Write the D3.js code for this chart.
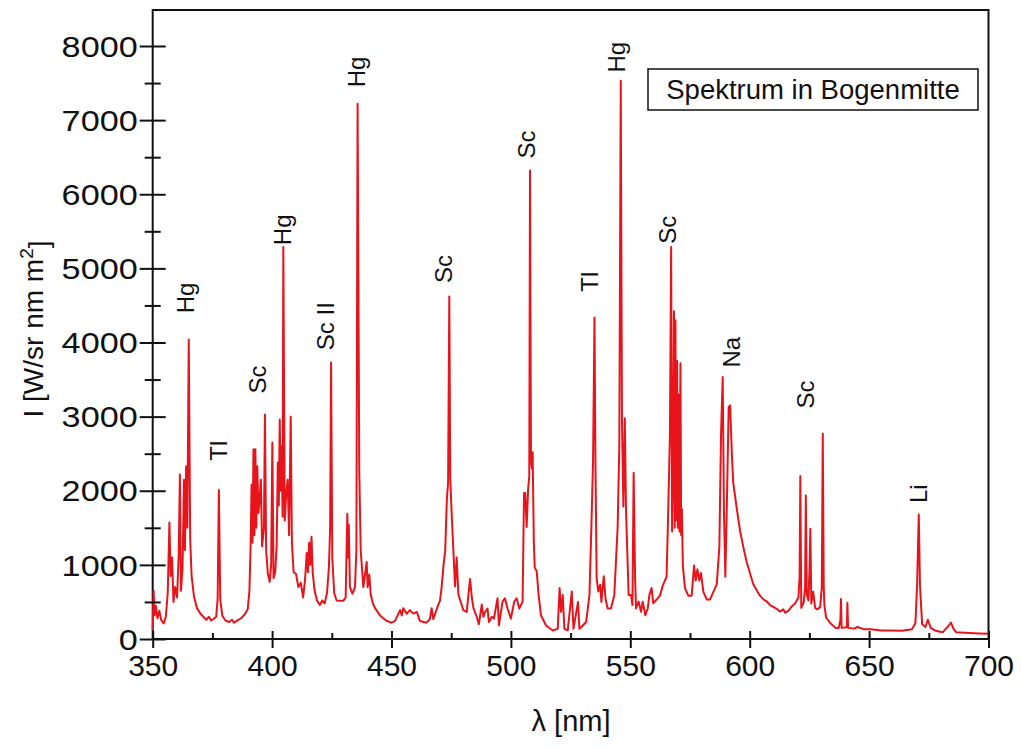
<!DOCTYPE html>
<html>
<head>
<meta charset="utf-8">
<script src="https://cdn.jsdelivr.net/npm/d3@7"></script>
<style>
  html, body { margin: 0; padding: 0; background: #fff; }
  svg { display: block; font-family: "Liberation Sans", Arial, sans-serif; }
</style>
</head>
<body>
<svg id="chart" width="1021" height="749"></svg>
<script>
// Emission spectrum of the arc centre: wavelength (nm) and radiance I (W/sr nm m²)
const wavelength = [
  350.0, 350.4, 350.8, 351.3, 352.0, 352.8, 353.5, 354.6, 355.5, 356.3,
  357.0, 357.5, 358.1, 358.7, 359.4, 360.2, 360.9, 361.4, 361.8, 362.5,
  363.1, 363.5, 364.0, 364.5, 365.1, 365.7, 366.3, 367.3, 368.5, 370.0,
  371.5, 372.5, 373.5, 374.5, 375.5, 376.6, 377.2, 377.7, 378.3, 379.2,
  380.5, 382.0, 383.2, 384.0, 385.5, 387.0, 388.5, 389.8, 390.5, 391.0,
  391.4, 391.8, 392.2, 392.6, 393.0, 393.4, 393.8, 394.3, 394.8, 395.3,
  395.8, 396.6, 397.0, 397.5, 398.2, 399.0, 399.6, 400.1, 400.6, 401.3,
  401.9, 402.4, 402.8, 403.2, 403.6, 404.0, 404.4, 404.7, 405.3, 405.9,
  406.5, 407.1, 407.8, 408.3, 409.0, 410.0, 411.0, 412.0, 413.0, 413.8,
  414.5, 415.0, 415.5, 416.0, 416.5, 417.0, 417.8, 418.8, 420.0, 421.0,
  422.0, 423.0, 423.8, 424.3, 424.7, 425.2, 426.0, 427.0, 428.3, 429.8,
  430.8, 431.5, 431.8, 432.1, 432.6, 433.6, 434.7, 435.3, 435.8, 436.5,
  437.1, 438.2, 439.6, 440.0, 440.7, 441.3, 442.2, 443.1, 445.2, 448.0,
  450.1, 451.5, 453.6, 454.3, 454.9, 456.4, 457.7, 459.1, 460.6, 461.9,
  464.7, 466.1, 466.8, 467.5, 469.6, 470.3, 471.0, 471.8, 472.5, 473.2,
  473.7, 474.2, 474.6, 475.2, 475.9, 476.6, 477.3, 478.0, 480.1, 481.5,
  482.9, 483.6, 484.3, 485.7, 486.6, 487.8, 488.5, 489.2, 490.2, 490.8,
  492.0, 492.9, 494.4, 495.0, 496.5, 497.5, 498.6, 500.0, 501.4, 502.4,
  503.5, 504.9, 505.5, 506.0, 506.6, 507.2, 507.7, 508.0, 508.4, 508.8,
  509.1, 509.6, 510.0, 510.8, 511.6, 512.6, 514.7, 517.5, 519.6, 520.4,
  521.0, 521.7, 522.4, 523.8, 525.5, 526.2, 528.1, 528.7, 530.1, 531.5,
  532.9, 533.7, 534.4, 535.0, 535.4, 535.9, 536.6, 537.4, 537.9, 538.9,
  539.6, 540.5, 541.9, 543.3, 544.0, 544.7, 545.4, 546.0, 546.5, 547.1,
  547.7, 548.2, 549.3, 550.3, 550.9, 551.4, 552.0, 552.4, 553.5, 554.5,
  555.2, 556.3, 557.3, 558.0, 558.9, 559.6, 561.1, 562.4, 563.8, 565.2,
  565.9, 566.6, 567.1, 567.5, 567.9, 568.3, 568.6, 568.9, 569.2, 569.6,
  569.9, 570.3, 570.6, 571.0, 571.3, 571.6, 572.0, 572.9, 574.3, 575.7,
  576.7, 577.4, 578.1, 578.9, 579.6, 580.6, 582.0, 583.4, 584.8, 586.2,
  587.3, 588.0, 588.7, 589.2, 589.8, 590.4, 591.2, 591.8, 592.5, 593.1,
  594.6, 596.0, 597.3, 598.7, 600.1, 601.5, 602.9, 604.3, 605.7, 607.1,
  608.5, 609.9, 611.3, 612.7, 614.1, 614.8, 616.2, 617.6, 619.0, 620.4,
  620.9, 621.2, 621.6, 622.6, 623.2, 623.5, 623.9, 624.6, 625.1, 625.4,
  625.8, 626.6, 627.4, 628.3, 629.5, 630.2, 630.6, 631.0, 631.3, 632.0,
  633.7, 635.9, 637.3, 638.0, 638.2, 638.5, 640.7, 640.9, 641.2, 643.7,
  645.1, 648.0, 650.8, 655.1, 659.4, 663.6, 668.0, 669.4, 670.1, 670.8,
  671.3, 672.2, 673.6, 674.6, 675.8, 677.9, 680.8, 682.2, 683.6, 684.3,
  685.3, 686.5, 692.2, 696.0, 700.0
];
const intensity = [
   120,  650,  320,  450,  280,  380,  260,  210,  300,  620,
  1570,  850, 1100,  500,  700,  560, 1150, 2220,  650,  950,
  2150, 1200, 2330, 1500, 4040, 1350,  850,  570,  420,  340,
   290,  260,  300,  250,  270,  300,  550, 2010,  520,  310,
   250,  230,  260,  220,  250,  280,  330,  400,  650, 1250,
  2080, 1300, 2560, 1400, 2560, 1500, 2330, 1700, 1900, 2150,
  1250, 1500, 3030, 1200,  890,  770, 1000, 2650,  820,  900,
  1250, 2380, 1800, 2960, 2000, 2600, 1650, 5290, 1600, 1950,
  2150, 1400, 3000, 1300,  900,  880,  700,  760,  560,  800,
  1160,  900, 1300, 1000, 1380,  900,  650,  520,  460,  520,
   480,  620,  970, 1500, 3730, 1100,  620,  520,  515,  515,
   560, 1690, 1100, 1540,  700,  610,  700, 1200, 7220, 2280,
  1200,  700, 1040,  700,  870,  600,  480,  416,  318,  244,
   220,  244,  390,  318,  416,  343,  390,  343,  365,  244,
   220,  270,  416,  270,  464,  515,  700, 1000, 1200, 1900,
  2100, 4620, 2170, 1690, 1200,  710, 1100,  600,  390,  365,
   810,  567,  420,  297,  200,  464,  300,  365,  412,  229,
   300,  275,  550,  183,  504,  550,  412,  275,  504,  550,
   412,  504, 1970, 1970, 1510, 2015, 2200, 6320, 2430, 2300,
  2520, 1300,  960,  916,  595,  320,  183,  115,  137,  687,
   366,  595,  137,  115,  640,  137,  500,  137,  183,  229,
   595, 1510, 2400, 4337, 2400,  824,  640,  733,  500,  847,
   550,  412,  412,  595, 1050, 1510, 2600, 7530, 2977, 1786,
  2977, 1740,  595,  595,  458, 2244,  824,  412,  504,  366,
   504,  320,  412,  595,  687,  483,  534,  585,  738,  840,
  1755, 2772, 5290, 1450, 2300, 4420, 1500, 4300, 1600, 3750,
  1500, 3300, 1450, 3720, 1400, 1755,  990,  687,  585,  585,
   990,  788,  940,  788,  890,  636,  534,  534,  636,  738,
  1246, 2772, 3535, 1755,  840, 1755, 3128, 3150, 2518, 2111,
  1755, 1450, 1246, 1043,  890,  738,  661,  585,  534,  509,
   458,  432,  407,  370,  400,  356,  380,  440,  480,  560,
   840, 2200,  420,  490,  700, 1935,  600,  520, 1000, 1488,
   480,  636,  420,  400,  430,  700, 2770,  700,  450,  290,
   217,  150,  150,  260,  540,  150,  160,  490,  150,  140,
   162,  130,  133,  115,  115,  110,  133,  217,  730, 1680,
   730,  200,  162,  260,  150,  110,   90,  140,  190,  222,
   140,   90,   80,   75,   70
];

// Axis ticks
const xMajorTicks = [350, 400, 450, 500, 550, 600, 650, 700];
const xMinorTicks = [375, 425, 475, 525, 575, 625, 675];
const yMajorTicks = [0, 1000, 2000, 3000, 4000, 5000, 6000, 7000, 8000];
const yMinorTicks = [500, 1500, 2500, 3500, 4500, 5500, 6500, 7500];

// Emission line labels: element, wavelength of the label, height of the label centre
const lineNames       = ["Hg", "Tl", "Sc", "Hg", "Sc II", "Hg", "Sc", "Sc", "Tl", "Hg", "Sc", "Na", "Sc", "Li"];
const lineLabelNm     = [363.9, 377.8, 394.1, 404.6, 422.2, 435.3, 472.0, 506.7, 533.1, 544.4, 565.8, 592.6, 623.6, 670.6];
const lineLabelHeight = [4600, 2540, 3500, 5520, 4220, 7650, 4990, 6670, 4820, 7850, 5520, 3870, 3300, 1960];

const legendText = "Spektrum in Bogenmitte";

const svg = d3.select("#chart");
const plotLeft = 152.7, plotRight = 988.5, plotBottom = 639, plotTop = 10;

const x = d3.scaleLinear().domain([350, 700]).range([plotLeft, plotRight]);
const y = d3.scaleLinear().domain([0, 8000]).range([plotBottom, 46]);

// Frame
svg.append("rect")
  .attr("x", plotLeft).attr("y", plotTop)
  .attr("width", plotRight - plotLeft).attr("height", plotBottom - plotTop)
  .attr("fill", "none").attr("stroke", "#111").attr("stroke-width", 2);

// Spectrum
const pts = wavelength.map((w, i) => [w, intensity[i]]);
const line = d3.line().x(d => x(d[0])).y(d => y(d[1]));
svg.append("path")
  .datum(pts)
  .attr("d", line)
  .attr("fill", "none")
  .attr("stroke", "#e8141c")
  .attr("stroke-width", 2)
  .attr("stroke-linejoin", "round");

// X axis
const gx = svg.append("g").attr("transform", `translate(0,${plotBottom})`);
gx.call(d3.axisBottom(x).tickValues(xMajorTicks).tickFormat(d3.format("d")).tickSize(13).tickSizeOuter(0));
gx.select(".domain").remove();
gx.selectAll(".tick line").attr("y1", -8).attr("y2", 9).attr("stroke", "#111").attr("stroke-width", 2);
gx.selectAll(".tick text")
  .attr("y", 37).attr("dy", null)
  .attr("fill", "#111")
  .style("font-size", "30px");

const gxm = svg.append("g").attr("transform", `translate(0,${plotBottom})`);
gxm.call(d3.axisBottom(x).tickValues(xMinorTicks).tickFormat("").tickSizeOuter(0));
gxm.select(".domain").remove();
gxm.selectAll(".tick line").attr("y1", -6).attr("y2", 0).attr("stroke", "#111").attr("stroke-width", 2);

// Y axis (labels set slightly wide)
const gy = svg.append("g").attr("transform", `translate(${plotLeft},0)`);
gy.call(d3.axisLeft(y).tickValues(yMajorTicks).tickFormat(d3.format("d")).tickSizeOuter(0));
gy.select(".domain").remove();
gy.selectAll(".tick line").attr("x1", 13).attr("x2", -13).attr("stroke", "#111").attr("stroke-width", 2);
gy.selectAll(".tick text")
  .attr("x", -15).attr("dy", "0.34em")
  .attr("fill", "#111")
  .style("font-size", "30px")
  .each(function () {
    const w = this.getComputedTextLength();
    d3.select(this).attr("textLength", w * 1.14).attr("lengthAdjust", "spacingAndGlyphs");
  });

const gym = svg.append("g").attr("transform", `translate(${plotLeft},0)`);
gym.call(d3.axisLeft(y).tickValues(yMinorTicks).tickFormat("").tickSizeOuter(0));
gym.select(".domain").remove();
gym.selectAll(".tick line").attr("x1", 8).attr("x2", -8).attr("stroke", "#111").attr("stroke-width", 2);

// Axis titles
svg.append("text")
  .attr("x", 571).attr("y", 731)
  .attr("text-anchor", "middle")
  .attr("fill", "#111")
  .style("font-size", "29px")
  .text("λ [nm]");

const yt = svg.append("text")
  .attr("transform", "translate(43,329) rotate(-90)")
  .attr("text-anchor", "middle")
  .attr("fill", "#111")
  .style("font-size", "28px");
yt.append("tspan").text("I [W/sr nm m");
yt.append("tspan").attr("dy", "-0.55em").style("font-size", "19px").text("2");
yt.append("tspan").attr("dy", "0.55em").text("]");

// Line labels
svg.append("g").selectAll("text")
  .data(lineNames)
  .join("text")
  .attr("transform", (d, i) => `translate(${x(lineLabelNm[i])},${y(lineLabelHeight[i])}) rotate(-90)`)
  .attr("text-anchor", "middle")
  .attr("dy", "0.35em")
  .attr("fill", "#111")
  .style("font-size", "24px")
  .text(d => d);

// Legend box
svg.append("rect")
  .attr("x", 648).attr("y", 69)
  .attr("width", 330).attr("height", 41)
  .attr("fill", "#fff").attr("stroke", "#111").attr("stroke-width", 1.5);
svg.append("text")
  .attr("x", 813).attr("y", 99)
  .attr("text-anchor", "middle")
  .attr("fill", "#111")
  .style("font-size", "27.5px")
  .text(legendText);
</script>
</body>
</html>
